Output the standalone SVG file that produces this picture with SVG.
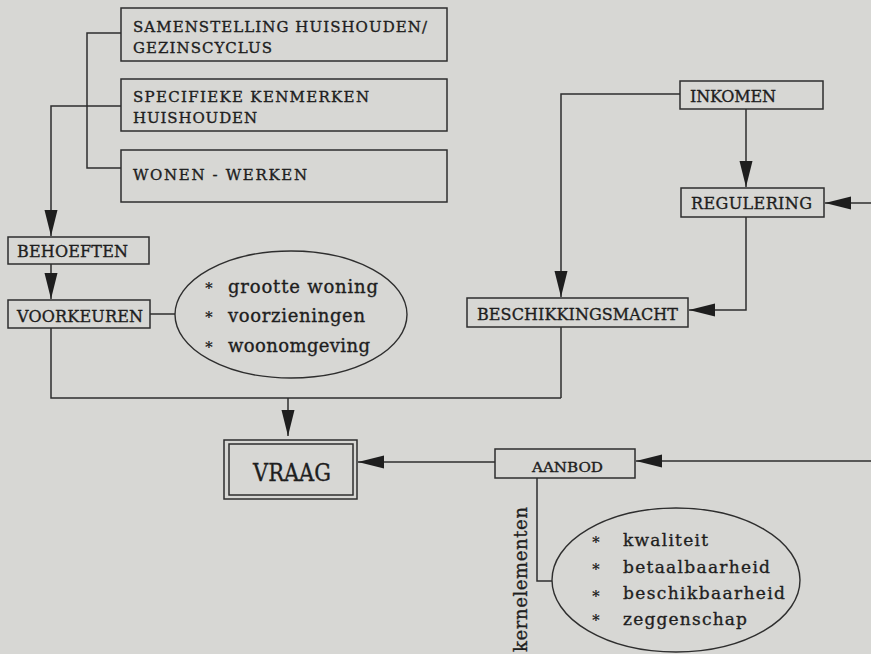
<svg xmlns="http://www.w3.org/2000/svg" width="871" height="654" viewBox="0 0 871 654">
<style>
.box{fill:none;stroke:#2e2e2e;stroke-width:1.5}
.ell{fill:none;stroke:#2e2e2e;stroke-width:1.4}
.ln{fill:none;stroke:#2e2e2e;stroke-width:1.5}
.t{font-family:"DejaVu Serif","Liberation Serif",serif;fill:#1e1e1e;stroke:#1e1e1e;stroke-width:0.35}
.s14{font-size:15px}
.s15{font-size:16px}
.s16{font-size:17px}
.s17{font-size:18px}
.b{font-family:"DejaVu Serif","Liberation Serif",serif;font-weight:bold;fill:#1e1e1e;font-size:15px;text-anchor:middle}
</style>
<defs>
<marker id="ah" markerUnits="userSpaceOnUse" markerWidth="27" markerHeight="14" refX="26" refY="6.5" orient="auto">
<path d="M0,0 L26,6.5 L0,13 Z" fill="#1e1e1e"/>
</marker>
</defs>
<rect width="871" height="654" fill="#d7d7d4"/>
<g id="connectors">
<path class="ln" d="M121,33 H87 V168 H121"/>
<path class="ln" d="M121,106 H51 V236" marker-end="url(#ah)"/>
<path class="ln" d="M51,264 V299" marker-end="url(#ah)"/>
<path class="ln" d="M150,314 H175"/>
<path class="ln" d="M51,328 V398 H561"/>
<path class="ln" d="M561,327 V398"/>
<path class="ln" d="M288,398 V436" marker-end="url(#ah)"/>
<path class="ln" d="M680,94 H561 V297" marker-end="url(#ah)"/>
<path class="ln" d="M746,109 V187" marker-end="url(#ah)"/>
<path class="ln" d="M871,203 H825" marker-end="url(#ah)"/>
<path class="ln" d="M746,217 V310 H689" marker-end="url(#ah)"/>
<path class="ln" d="M495,462 H358" marker-end="url(#ah)"/>
<path class="ln" d="M871,461 H636" marker-end="url(#ah)"/>
<path class="ln" d="M537,478 V581 H552"/>
</g>
<g id="samenstelling">
<rect class="box" x="121" y="8" width="326" height="53"/>
<text class="t s14" x="133" y="32" textLength="294" lengthAdjust="spacing">SAMENSTELLING HUISHOUDEN/</text>
<text class="t s14" x="133" y="53" textLength="139" lengthAdjust="spacing">GEZINSCYCLUS</text>
</g>
<g id="specifieke">
<rect class="box" x="121" y="79" width="326" height="52"/>
<text class="t s14" x="133" y="102" textLength="236" lengthAdjust="spacing">SPECIFIEKE KENMERKEN</text>
<text class="t s14" x="133" y="123" textLength="124" lengthAdjust="spacing">HUISHOUDEN</text>
</g>
<g id="wonen">
<rect class="box" x="121" y="150" width="326" height="52"/>
<text class="t s14" x="133" y="180" textLength="174" lengthAdjust="spacing">WONEN - WERKEN</text>
</g>
<g id="behoeften">
<rect class="box" x="8" y="237" width="141" height="27"/>
<text class="t s15" x="17" y="257" textLength="111" lengthAdjust="spacing">BEHOEFTEN</text>
</g>
<g id="voorkeuren">
<rect class="box" x="8" y="300" width="142" height="28"/>
<text class="t s15" x="17" y="322" textLength="126" lengthAdjust="spacing">VOORKEUREN</text>
</g>
<g id="voorkeuren-items">
<ellipse class="ell" cx="291" cy="314.5" rx="116" ry="63.5"/>
<text class="b" x="209" y="293">*</text>
<text class="b" x="209" y="322">*</text>
<text class="b" x="209" y="352">*</text>
<text class="t s17" x="228" y="293" textLength="150" lengthAdjust="spacing">grootte woning</text>
<text class="t s17" x="228" y="322" textLength="137" lengthAdjust="spacing">voorzieningen</text>
<text class="t s17" x="228" y="352" textLength="142" lengthAdjust="spacing">woonomgeving</text>
</g>
<g id="inkomen">
<rect class="box" x="680" y="81" width="143" height="28"/>
<text class="t s15" x="690" y="102" textLength="86" lengthAdjust="spacing">INKOMEN</text>
</g>
<g id="regulering">
<rect class="box" x="681" y="188" width="143" height="29"/>
<text class="t s15" x="691" y="209" textLength="121" lengthAdjust="spacing">REGULERING</text>
</g>
<g id="beschikkingsmacht">
<rect class="box" x="467" y="298" width="221" height="29"/>
<text class="t s15" x="477" y="320" textLength="201" lengthAdjust="spacing">BESCHIKKINGSMACHT</text>
</g>
<g id="vraag">
<rect class="box" x="224" y="440" width="133" height="59"/>
<rect class="box" x="229" y="444" width="124" height="51"/>
<text class="t" x="253" y="481" font-size="25" textLength="78" lengthAdjust="spacingAndGlyphs">VRAAG</text>
</g>
<g id="aanbod">
<rect class="box" x="495" y="449" width="140" height="29"/>
<text class="t" x="532" y="472" font-size="12.5" textLength="71" lengthAdjust="spacingAndGlyphs">AANBOD</text>
</g>
<g id="aanbod-items">
<ellipse class="ell" cx="676" cy="580" rx="124" ry="72"/>
<text class="b" x="596" y="547">*</text>
<text class="b" x="596" y="574">*</text>
<text class="b" x="596" y="601">*</text>
<text class="b" x="596" y="625">*</text>
<text class="t s16" x="623" y="546" textLength="85" lengthAdjust="spacing">kwaliteit</text>
<text class="t s16" x="623" y="573" textLength="147" lengthAdjust="spacing">betaalbaarheid</text>
<text class="t s16" x="623" y="599" textLength="162" lengthAdjust="spacing">beschikbaarheid</text>
<text class="t s16" x="623" y="625" textLength="124" lengthAdjust="spacing">zeggenschap</text>
</g>
<g id="kernelementen">
<text class="t s17" transform="translate(527,652) rotate(-90)" x="0" y="0" textLength="145" lengthAdjust="spacing">kernelementen</text>
</g>
</svg>
